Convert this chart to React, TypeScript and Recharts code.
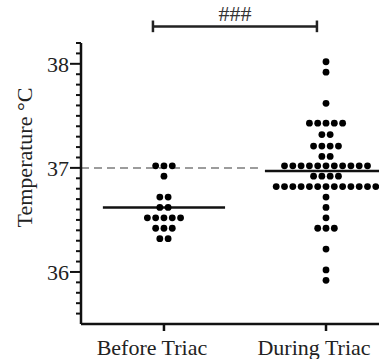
import React from "react";
import {
  ScatterChart,
  Scatter,
  XAxis,
  YAxis,
  ReferenceLine,
} from "recharts";

// groups on the x axis
const categories = ["Before Triac", "During Triac"];

// temperatures (one entry per dot)
const beforeTriac = [
  37.02, 37.02, 37.02,
  36.92,
  36.72, 36.72,
  36.62, 36.62,
  36.52, 36.52, 36.52, 36.52, 36.52,
  36.42, 36.42, 36.42,
  36.32, 36.32,
];

const duringTriac = [
  38.02,
  37.92,
  37.62,
  37.43, 37.43, 37.43, 37.43, 37.43,
  37.32, 37.32,
  37.21, 37.21, 37.21, 37.21,
  37.11, 37.11,
  37.02, 37.02, 37.02, 37.02, 37.02, 37.02, 37.02, 37.02, 37.02, 37.02, 37.02,
  36.92, 36.92, 36.92, 36.92,
  36.82, 36.82, 36.82, 36.82, 36.82, 36.82, 36.82, 36.82, 36.82, 36.82, 36.82, 36.82, 36.82,
  36.72,
  36.62,
  36.52,
  36.42, 36.42, 36.42,
  36.22,
  36.02,
  35.92,
];

// horizontal mean bars
const groupMeans = [36.62, 36.97];

// dashed reference temperature
const referenceTemp = 37;

const yMajorTicks = [36, 37, 38];
const yTicks = Array.from({ length: 27 }, (_, i) => +(35.6 + i * 0.1).toFixed(1));
const significanceLabel = "###";

const FONT = "'Liberation Serif', 'Times New Roman', serif";
const textStyle = { fontFamily: FONT, fontSize: 22, fill: "#222" };
const DOT_GAP = 8.3;

// stack equal values side by side, centred on the group
const toSwarm = (values: number[], group: number) => {
  const rows = new Map<number, number>();
  values.forEach((v) => rows.set(v, (rows.get(v) || 0) + 1));
  const pts: { x: number; y: number; slot: number }[] = [];
  rows.forEach((n, v) => {
    for (let i = 0; i < n; i++) pts.push({ x: group, y: v, slot: i - (n - 1) / 2 });
  });
  return pts;
};

const points = [...toSwarm(beforeTriac, 1), ...toSwarm(duringTriac, 2)];

const SwarmDot = (props: any) => {
  const { cx, cy, payload } = props;
  return <circle cx={cx + payload.slot * DOT_GAP} cy={cy} r={3.4} fill="#000" />;
};

const YTick = ({ x, y, payload }: any) => {
  const v = payload.value;
  const major = yMajorTicks.some((t) => Math.abs(t - v) < 1e-6);
  return (
    <g>
      <line x1={x - (major ? 11 : 5)} x2={x} y1={y} y2={y} stroke="#111" strokeWidth={2} />
      {major && (
        <text x={x - 12} y={y} dy="0.36em" textAnchor="end" style={textStyle}>
          {v}
        </text>
      )}
    </g>
  );
};

const XTick = ({ x, y, payload }: any) => (
  <text x={x - 12} y={y} dy={22} textAnchor="middle" style={textStyle}>
    {categories[payload.value - 1]}
  </text>
);

const YTitle = ({ viewBox }: any) => {
  const cx = viewBox.x + 24;
  const cy = viewBox.y + viewBox.height / 2 - 26;
  return (
    <text
      x={cx}
      y={cy}
      transform={`rotate(-90 ${cx} ${cy})`}
      textAnchor="middle"
      dominantBaseline="central"
      style={textStyle}
    >
      Temperature °C
    </text>
  );
};

const BracketLabel = ({ viewBox }: any) => (
  <text
    x={viewBox.x + viewBox.width / 2}
    y={viewBox.y - 6}
    textAnchor="middle"
    style={{ ...textStyle, fill: "#333" }}
  >
    {significanceLabel}
  </text>
);

export default function App() {
  const halfBar = 0.377;
  const bracketY = 38.358;
  const bracketL = 0.932;
  const bracketR = 1.944;
  const capTop = 38.416;
  const capBottom = 38.304;

  return (
    <div style={{ position: "absolute", left: 0, top: 0 }}>
      <ScatterChart width={379} height={359} margin={{ top: 43, right: 0, bottom: 0, left: 0 }}>
        <XAxis
          type="number"
          dataKey="x"
          domain={[0.488, 2.327]}
          allowDataOverflow
          ticks={[1, 2]}
          interval={0}
          height={35}
          tick={<XTick />}
          tickSize={7}
          tickMargin={2}
          axisLine={{ stroke: "#111", strokeWidth: 2.5 }}
          tickLine={{ stroke: "#111", strokeWidth: 2.5 }}
        />
        <YAxis
          type="number"
          dataKey="y"
          domain={[35.5, 38.2]}
          allowDataOverflow
          ticks={yTicks}
          interval={0}
          width={81}
          tick={<YTick />}
          tickSize={0}
          tickMargin={0}
          tickLine={false}
          axisLine={{ stroke: "#111", strokeWidth: 2.5 }}
          label={<YTitle />}
        />
        <ReferenceLine
          segment={[
            { x: 0.488, y: referenceTemp },
            { x: 1.58, y: referenceTemp },
          ]}
          stroke="#9c9c9c"
          strokeWidth={2}
          strokeDasharray="8 5"
          ifOverflow="visible"
        />
        <Scatter data={points} shape={<SwarmDot />} isAnimationActive={false} />
        {groupMeans.map((m, i) => (
          <ReferenceLine
            key={i}
            segment={[
              { x: i + 1 - halfBar, y: m },
              { x: i + 1 + halfBar, y: m },
            ]}
            stroke="#111"
            strokeWidth={2.5}
            ifOverflow="visible"
          />
        ))}
        <ReferenceLine
          segment={[
            { x: bracketL, y: bracketY },
            { x: bracketR, y: bracketY },
          ]}
          stroke="#222"
          strokeWidth={2.5}
          ifOverflow="visible"
          label={<BracketLabel />}
        />
        <ReferenceLine
          segment={[
            { x: bracketL, y: capTop },
            { x: bracketL, y: capBottom },
          ]}
          stroke="#222"
          strokeWidth={2.5}
          ifOverflow="visible"
        />
        <ReferenceLine
          segment={[
            { x: bracketR, y: capTop },
            { x: bracketR, y: capBottom },
          ]}
          stroke="#222"
          strokeWidth={2.5}
          ifOverflow="visible"
        />
      </ScatterChart>
    </div>
  );
}
